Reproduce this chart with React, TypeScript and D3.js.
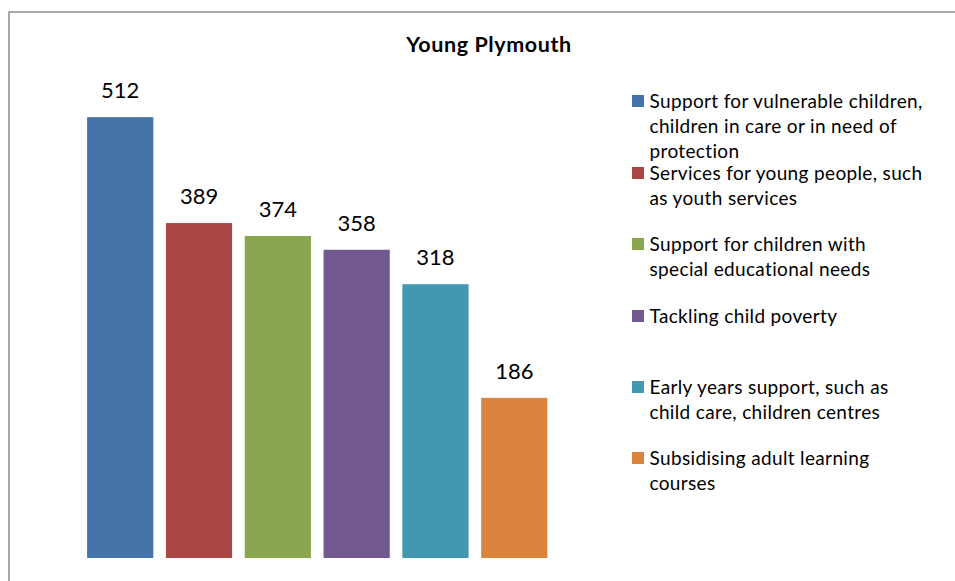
import React from "react";
import * as d3 from "d3";

const categories = [
  "Support for vulnerable children, children in care or in need of protection",
  "Services for young people, such as youth services",
  "Support for children with special educational needs",
  "Tackling child poverty",
  "Early years support, such as child care, children centres",
  "Subsidising adult learning courses",
];
const legendLines = [
  ["Support for vulnerable children,", "children in care or in need of", "protection"],
  ["Services for young people, such", "as youth services"],
  ["Support for children with", "special educational needs"],
  ["Tackling child poverty"],
  ["Early years support, such as", "child care, children centres"],
  ["Subsidising adult learning", "courses"],
];
const values = [512, 389, 374, 358, 318, 186];
const colors = ["#4573A7", "#AA4644", "#8AA64F", "#71588F", "#4298B0", "#DB843D"];
const legendY = [101, 173, 244, 316, 387, 458];
const title = "Young Plymouth";

const W = 955;
const H = 581;
const FONT = "Lato, 'Open Sans', sans-serif";

export default function App() {
  const x = d3.scaleBand<string>().domain(categories).range([74.5, 560]).paddingInner(0.16).paddingOuter(0.16);
  const y = d3.scaleLinear().domain([0, 600]).range([558, 41.4]);
  return (
    <svg width={W} height={H} style={{ position: "absolute", left: 0, top: 0, display: "block" }} fontFamily={FONT}>
      <rect x={0} y={0} width={W} height={H} fill="#fff" />
      <rect x={9} y={12} width={W + 20} height={H + 20} fill="#fff" stroke="#8c8c8c" strokeWidth={1.5} />
      <text x={489} y={52} textAnchor="middle" fontWeight="bold" fontSize={21.5} letterSpacing={0.6} fill="#000">{title}</text>
      {categories.map((c, i) => (
        <g key={c}>
          <rect x={x(c)} y={y(values[i])} width={x.bandwidth()} height={y(0) - y(values[i])} fill={colors[i]} />
          <text x={(x(c) as number) + x.bandwidth() / 2} y={y(values[i]) - 19} textAnchor="middle" fontSize={22} fill="#000">{values[i]}</text>
        </g>
      ))}
      {categories.map((c, i) => (
        <g key={"l" + c}>
          <rect x={632} y={legendY[i] - 6} width={12} height={12} fill={colors[i]} />
          {legendLines[i].map((ln, j) => (
            <text key={j} x={649.5} y={legendY[i] + 6.5 + j * 25.3} fontSize={19} letterSpacing={0.35} fill="#000">{ln}</text>
          ))}
        </g>
      ))}
    </svg>
  );
}
